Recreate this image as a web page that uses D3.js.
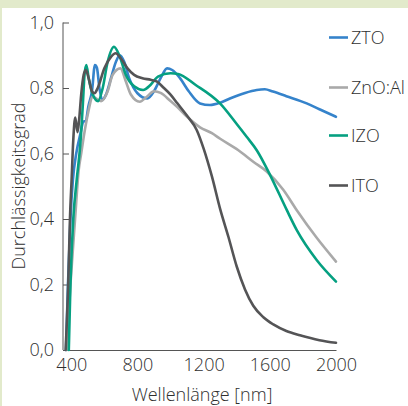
<!DOCTYPE html>
<meta charset="utf-8">
<style>
body { margin: 0; background: #fff; }
text { font-family: "Open Sans", sans-serif; font-weight: 300; fill: #2f2f2f; }
.curve { fill: none; stroke-width: 2.6; stroke-linejoin: round; stroke-linecap: round; }
</style>
<svg width="408" height="406"></svg>
<script src="https://cdn.jsdelivr.net/npm/d3@7"></script>
<script>

var names = ["ZTO", "ZnO:Al", "IZO", "ITO"];
var colors = ["#3583cb", "#a9a9a9", "#05a081", "#545456"];

// [Wellenlänge nm, Durchlässigkeitsgrad]
var zto = [[368,0],[380,0.2],[395,0.4],[410,0.52],[430,0.6],[455,0.66],[473,0.697],[488,0.70],[503,0.743],[525,0.79],[543,0.87],[555,0.862],[570,0.80],[590,0.765],[610,0.78],[640,0.83],[670,0.88],[693,0.90],[720,0.88],[750,0.83],[800,0.784],[860,0.768],[900,0.79],[940,0.83],[979,0.86],[1010,0.855],[1057,0.83],[1110,0.79],[1178,0.753],[1238,0.748],[1300,0.755],[1359,0.768],[1450,0.785],[1521,0.794],[1570,0.796],[1619,0.789],[1700,0.775],[1823,0.753],[1900,0.735],[2000,0.712]];

var zno = [[372,0],[395,0.2],[423,0.40],[445,0.55],[460,0.60],[475,0.65],[500,0.72],[530,0.773],[580,0.76],[620,0.79],[650,0.84],[697,0.86],[730,0.82],[760,0.78],[814,0.758],[860,0.775],[900,0.79],[940,0.785],[1000,0.76],[1038,0.743],[1100,0.712],[1178,0.68],[1250,0.662],[1300,0.645],[1410,0.61],[1500,0.575],[1581,0.545],[1680,0.49],[1763,0.427],[1880,0.345],[2000,0.27]];

var izo = [[385,0],[395,0.2],[412,0.4],[433,0.52],[455,0.63],[470,0.75],[480,0.84],[491,0.87],[505,0.83],[530,0.78],[562,0.76],[590,0.80],[620,0.88],[658,0.926],[690,0.90],[730,0.84],[780,0.805],[834,0.794],[880,0.81],[924,0.835],[1000,0.845],[1045,0.843],[1150,0.81],[1299,0.753],[1400,0.69],[1460,0.651],[1521,0.61],[1601,0.535],[1700,0.43],[1763,0.366],[1883,0.275],[2000,0.209]];

var ito = [[366,0],[382,0.21],[392,0.4],[402,0.52],[412,0.64],[424,0.71],[438,0.665],[447,0.70],[460,0.78],[475,0.84],[488,0.855],[505,0.83],[525,0.79],[540,0.784],[560,0.80],[600,0.86],[640,0.895],[668,0.906],[700,0.89],[740,0.86],[780,0.84],[830,0.83],[880,0.825],[916,0.82],[960,0.80],[1000,0.78],[1040,0.754],[1100,0.715],[1158,0.672],[1200,0.615],[1250,0.53],[1300,0.43],[1350,0.345],[1400,0.255],[1450,0.185],[1500,0.135],[1561,0.10],[1621,0.078],[1700,0.058],[1782,0.045],[1900,0.03],[2000,0.022]];

var series = [zto, zno, izo, ito];
var xTicks = [400, 800, 1200, 1600, 2000];
var yTicks = [0, 0.2, 0.4, 0.6, 0.8, 1.0];

var svg = d3.select("svg");

// green frame strip
svg.append("rect").attr("x", 0).attr("y", 0).attr("width", 408).attr("height", 8).attr("fill", "#e2eacb");
svg.append("rect").attr("x", 0).attr("y", 0).attr("width", 2).attr("height", 406).attr("fill", "#e2eacb");

var x = d3.scaleLinear().domain([350, 2000]).range([63, 336]);
var y = d3.scaleLinear().domain([0, 1]).range([350, 22.5]);

var fmt = function(d) { return d3.format(".1f")(d).replace(".", ","); };

var ya = svg.append("g").attr("transform", "translate(63,0)")
  .call(d3.axisLeft(y).tickValues(yTicks).tickSize(-6).tickPadding(9).tickFormat(fmt));
ya.select(".domain").attr("d", "M0," + y(1) + "V" + y(0)).attr("stroke", "#555");
ya.selectAll(".tick line").attr("stroke", "#555");
ya.selectAll("text").style("font-size", "18px").attr("font-family", null);

var xa = svg.append("g").attr("transform", "translate(0,350)")
  .call(d3.axisBottom(x).tickValues(xTicks).tickSize(0).tickPadding(8).tickFormat(d3.format("d")));
xa.select(".domain").attr("stroke", "#555");
xa.selectAll("text").style("font-size", "18px").attr("font-family", null);

svg.append("text").attr("x", 202).attr("y", 401).attr("text-anchor", "middle")
  .style("font-size", "18px").text("Wellenlänge [nm]");

svg.append("text").attr("transform", "translate(25,186) rotate(-90)").attr("text-anchor", "middle")
  .style("font-size", "18px").text("Durchlässigkeitsgrad");

var line = d3.line()
  .x(function(d) { return x(d[0]); })
  .y(function(d) { return y(d[1]); })
  .curve(d3.curveMonotoneX);

svg.selectAll(".curve").data(series).enter().append("path")
  .attr("class", "curve")
  .attr("d", line)
  .attr("stroke", function(d, i) { return colors[i]; });

// legend
var legY = [37.5, 87.5, 135.5, 185.5];
var lg = svg.selectAll(".leg").data(names).enter().append("g")
  .attr("class", "leg")
  .attr("transform", function(d, i) { return "translate(329," + legY[i] + ")"; });
lg.append("line").attr("x1", 0).attr("x2", 19).attr("stroke-width", 2.6)
  .attr("stroke", function(d, i) { return colors[i]; });
lg.append("text").attr("x", 22).attr("dy", "0.35em").style("font-size", "18px").text(function(d) { return d; });

</script>
